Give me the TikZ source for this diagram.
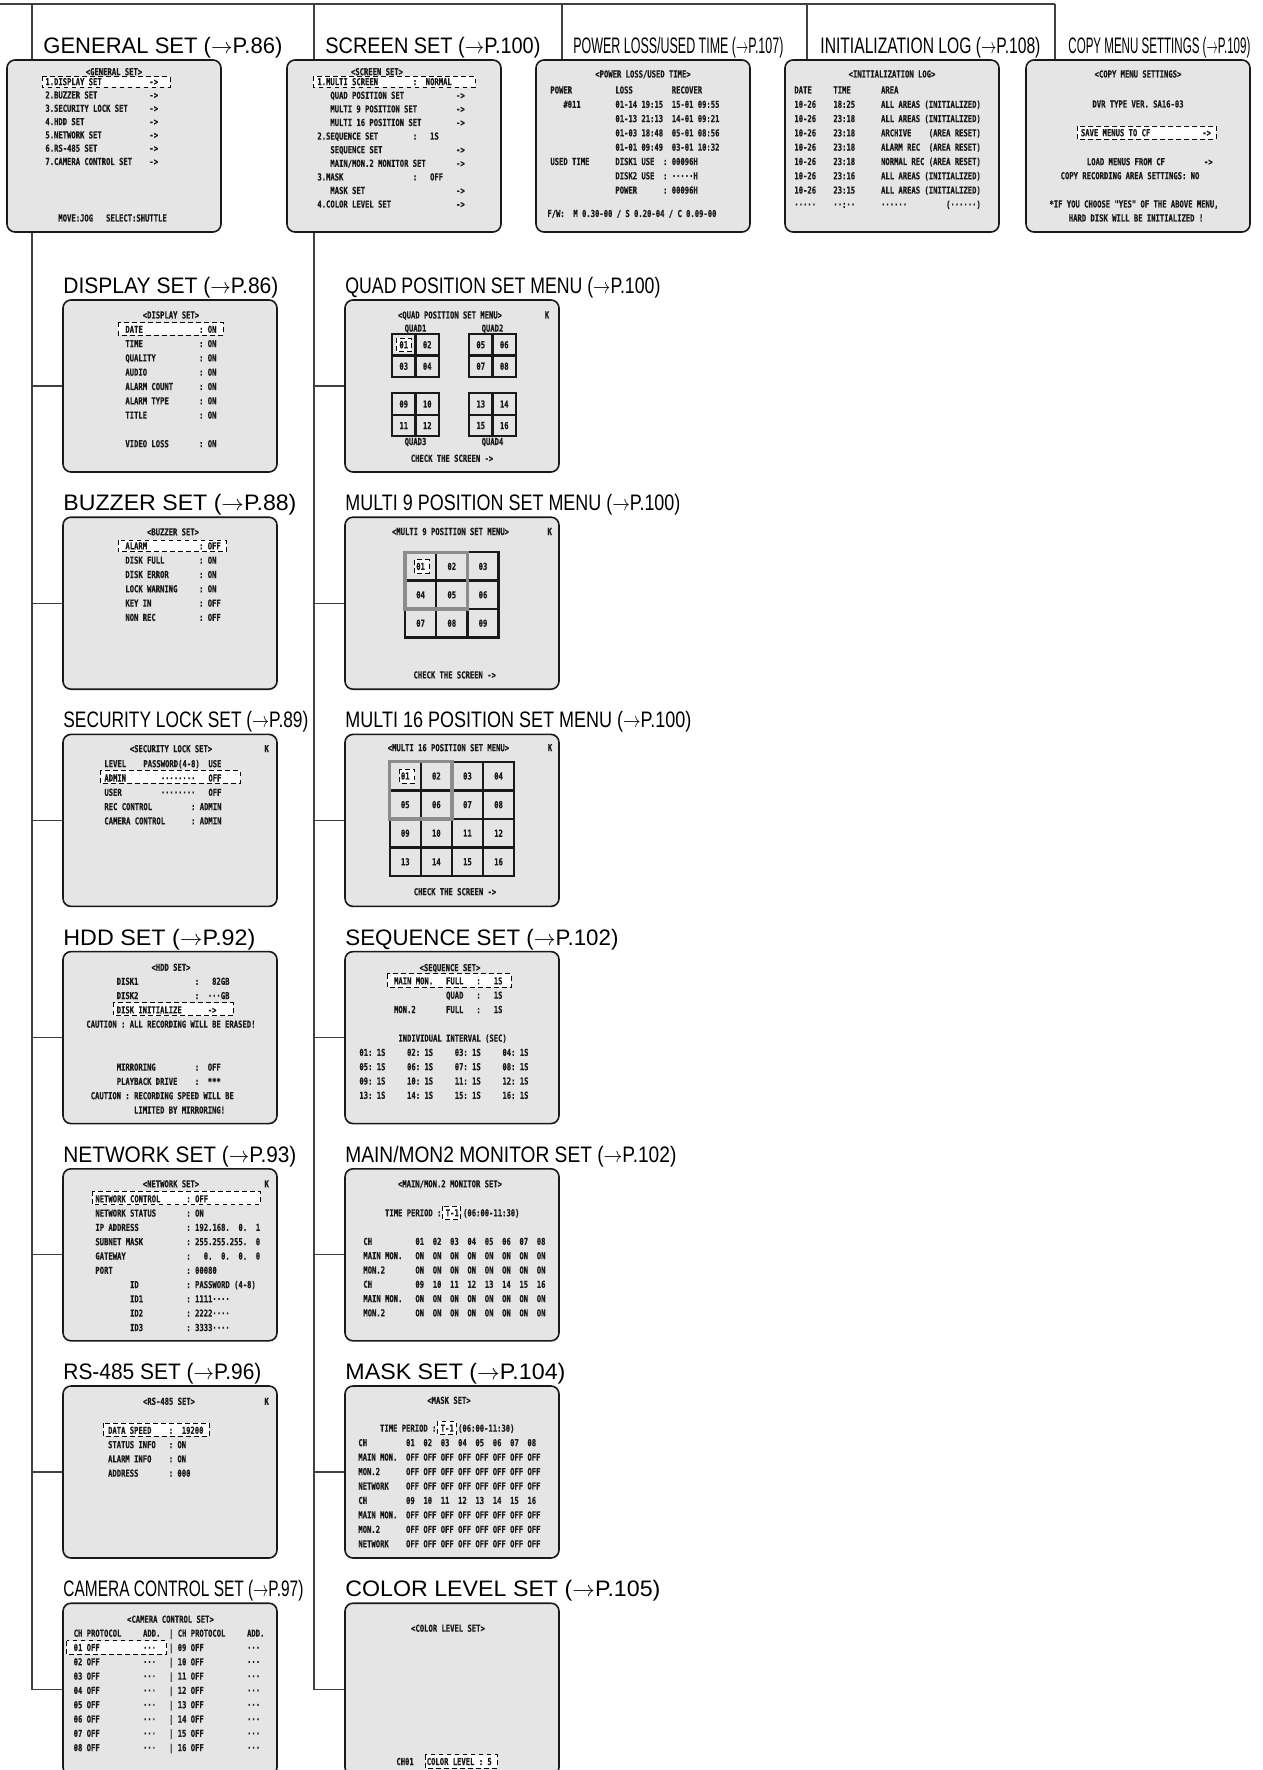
\documentclass[tikz,border=0pt]{standalone}
\usepackage{fontspec}
\setmainfont{Liberation Sans}
\newfontfamily\osdfont{DejaVu Sans Mono}[FakeStretch=0.75, BoldFeatures={FakeBold=0.5}]
\usetikzlibrary{positioning,backgrounds}

\newdimen\px \px=0.5pt
\newcommand\osdsetup{\osdfont\bfseries\fontsize{4.8}{6}\selectfont
  \frenchspacing\spaceskip=\fontcharwd\font`0\relax}
\newcommand\osp[1]{\kern#1\fontcharwd\font`0\relax}
\newcommand\rowof[2]{#1\osp{#2}#1\osp{#2}#1\osp{#2}#1\osp{#2}#1\osp{#2}#1\osp{#2}#1\osp{#2}#1}
\newcommand\hdtext[2]{\resizebox{#1\px}{\height}{#2}}
\newcommand\osdlines[5]{%
  \foreach \lntext [count=\i from 0] in {#5}
    \node[osd] (#1-\i) at (#2,{#3+\i*#4}) {\lntext};}
\newcommand\quadgrid[7]{%
  \draw[cellgrid] (#2,#3) rectangle ++(47,43) (#2+23.5,#3) -- ++(0,43) (#2,#3+21.5) -- ++(47,0);
  \node[cellno] (#1-1) at (#2+11.75,#3+10.75) {#4};
  \node[cellno] (#1-2) at (#2+35.25,#3+10.75) {#5};
  \node[cellno] (#1-3) at (#2+11.75,#3+32.25) {#6};
  \node[cellno] (#1-4) at (#2+35.25,#3+32.25) {#7};}

\begin{document}
\begin{tikzpicture}[x=0.5pt, y=-0.5pt,
    osdbox/.style={draw=black!90, line width=0.8pt, fill=black!10, rounded corners=4pt,
                   minimum width=107pt, minimum height=86pt, inner sep=0pt, outer sep=0pt},
    widebox/.style={osdbox, minimum width=112pt},
    hdr/.style={anchor=base west, inner sep=0pt, font=\fontsize{11.2}{13}\selectfont},
    osd/.style={anchor=base west, inner sep=0pt, text=black!90, font=\osdsetup},
    ostitle/.style={osd, anchor=base},
    cellno/.style={osd, anchor=center},
    hl/.style={draw=black, fill=white, line width=0.45pt, dash pattern=on 2.4pt off 1.6pt},
    cellgrid/.style={draw=black!90, line width=1.2pt},
    selframe/.style={draw=black!45, line width=1.6pt},
    tree/.style={draw=black!75, line width=0.65pt}
  ]
  \useasboundingbox (0,0) rectangle (1262,1770);

  % top row
  \node[osdbox, anchor=north west] (general) at (7,60) {};
  \node[osdbox, right=33pt of general]   (screenset) {};
  \node[osdbox, right=17.5pt of screenset] (power) {};
  \node[osdbox, right=17.5pt of power]   (init) {};
  \node[widebox, right=13.5pt of init]   (copy) {};

  % general set column
  \node[osdbox, anchor=north west] (display) at (63,300) {};
  \node[osdbox, below=22.6pt of display]  (buzzer) {};
  \node[osdbox, below=22.6pt of buzzer]   (security) {};
  \node[osdbox, below=22.6pt of security] (hdd) {};
  \node[osdbox, below=22.6pt of hdd]      (network) {};
  \node[osdbox, below=22.6pt of network]  (rs485) {};
  \node[osdbox, below=22.6pt of rs485]    (camera) {};

  % screen set column
  \node[osdbox, right=34pt of display]  (quad) {};
  \node[osdbox, right=34pt of buzzer]   (multi9) {};
  \node[osdbox, right=34pt of security] (multi16) {};
  \node[osdbox, right=34pt of hdd]      (sequence) {};
  \node[osdbox, right=34pt of network]  (mainmon) {};
  \node[osdbox, right=34pt of rs485]    (mask) {};
  \node[osdbox, right=34pt of camera]   (color) {};

  % headings
  \node[hdr] (general-h) at (43,54)   {\hdtext{239}{GENERAL SET ($\rightarrow$P.86)}};
  \node[hdr] (screen-h)  at (325,54)  {\hdtext{215}{SCREEN SET ($\rightarrow$P.100)}};
  \node[hdr] (power-h)   at (573,54)  {\hdtext{210}{POWER LOSS/USED TIME ($\rightarrow$P.107)}};
  \node[hdr] (init-h)    at (820,54)  {\hdtext{220}{INITIALIZATION LOG ($\rightarrow$P.108)}};
  \node[hdr] (copy-h)    at (1068,54) {\hdtext{182}{COPY MENU SETTINGS ($\rightarrow$P.109)}};
  \node[hdr] (display-h)  at ([yshift=3.25pt]display.north west)  {\hdtext{215}{DISPLAY SET ($\rightarrow$P.86)}};
  \node[hdr] (buzzer-h)   at ([yshift=3.25pt]buzzer.north west)   {\hdtext{233}{BUZZER SET ($\rightarrow$P.88)}};
  \node[hdr] (security-h) at ([yshift=3.25pt]security.north west) {\hdtext{245}{SECURITY LOCK SET ($\rightarrow$P.89)}};
  \node[hdr] (hdd-h)      at ([yshift=3.25pt]hdd.north west)      {\hdtext{192}{HDD SET ($\rightarrow$P.92)}};
  \node[hdr] (network-h)  at ([yshift=3.25pt]network.north west)  {\hdtext{233}{NETWORK SET ($\rightarrow$P.93)}};
  \node[hdr] (rs485-h)    at ([yshift=3.25pt]rs485.north west)    {\hdtext{198}{RS-485 SET ($\rightarrow$P.96)}};
  \node[hdr] (camera-h)   at ([yshift=3.25pt]camera.north west)   {\hdtext{240}{CAMERA CONTROL SET ($\rightarrow$P.97)}};
  \node[hdr] (quad-h)     at ([yshift=3.25pt]quad.north west)     {\hdtext{315}{QUAD POSITION SET MENU ($\rightarrow$P.100)}};
  \node[hdr] (multi9-h)   at ([yshift=3.25pt]multi9.north west)   {\hdtext{335}{MULTI 9 POSITION SET MENU ($\rightarrow$P.100)}};
  \node[hdr] (multi16-h)  at ([yshift=3.25pt]multi16.north west)  {\hdtext{346}{MULTI 16 POSITION SET MENU ($\rightarrow$P.100)}};
  \node[hdr] (sequence-h) at ([yshift=3.25pt]sequence.north west) {\hdtext{273}{SEQUENCE SET ($\rightarrow$P.102)}};
  \node[hdr] (mainmon-h)  at ([yshift=3.25pt]mainmon.north west)  {\hdtext{331}{MAIN/MON2 MONITOR SET ($\rightarrow$P.102)}};
  \node[hdr] (mask-h)     at ([yshift=3.25pt]mask.north west)     {\hdtext{220}{MASK SET ($\rightarrow$P.104)}};
  \node[hdr] (color-h)    at ([yshift=3.25pt]color.north west)    {\hdtext{315}{COLOR LEVEL SET ($\rightarrow$P.105)}};

  % tree lines
  \begin{scope}[on background layer]
    \coordinate (bus-w) at (0,4);
    \coordinate (bus-e) at (1055,4);
    \coordinate (drop1) at (32,4);
    \coordinate (drop2) at (314,4);
    \coordinate (drop3) at (562,4);
    \coordinate (drop4) at (807,4);
    \draw[tree] (bus-w) -- (bus-e);
    \draw[tree] (drop1) |- (camera.west);
    \draw[tree] (drop2) |- (color.west);
    \draw[tree] (drop3) -- (drop3 |- power.north);
    \draw[tree] (drop4) -- (drop4 |- init.north);
    \draw[tree] (bus-e) -- (bus-e |- copy.north);
    \foreach \b in {display,buzzer,security,hdd,network,rs485}
      \draw[tree] (drop1 |- \b.west) -- (\b.west);
    \foreach \b in {quad,multi9,multi16,sequence,mainmon,mask}
      \draw[tree] (drop2 |- \b.west) -- (\b.west);
  \end{scope}

  % screens
  \begin{scope}[shift={(general.north west)}]
    \node[ostitle] (general-t) at (107,15.2) {<GENERAL SET>};
    \path[hl] (35,16.7) rectangle (163,27.2);
    \osdlines{general}{38}{25.2}{13.3}{{1.DISPLAY SET\osp{11}->},{2.BUZZER SET\osp{12}->},
      {3.SECURITY LOCK SET\osp{5}->},{4.HDD SET\osp{15}->},{5.NETWORK SET\osp{11}->},
      {6.RS-485 SET\osp{12}->},{7.CAMERA CONTROL SET\osp{4}->}}
    \node[osd] (general-m) at (51,161.5) {MOVE:JOG\osp{3}SELECT:SHUTTLE};
  \end{scope}

  \begin{scope}[shift={(screenset.north west)}]
    \node[ostitle] (screenset-t) at (90,15.2) {<SCREEN SET>};
    \path[hl] (26,16.5) rectangle (188,27);
    \osdlines{screenset}{30}{25.2}{13.6}{{1.MULTI SCREEN\osp{8}:\osp{2}NORMAL},
      {\osp{3}QUAD POSITION SET\osp{12}->},{\osp{3}MULTI 9 POSITION SET\osp{9}->},
      {\osp{3}MULTI 16 POSITION SET\osp{8}->},{2.SEQUENCE SET\osp{8}:\osp{3}1S},
      {\osp{3}SEQUENCE SET\osp{17}->},{\osp{3}MAIN/MON.2 MONITOR SET\osp{7}->},
      {3.MASK\osp{16}:\osp{3}OFF},{\osp{3}MASK SET\osp{21}->},{4.COLOR LEVEL SET\osp{15}->}}
  \end{scope}

  \begin{scope}[shift={(power.north west)}]
    \node[ostitle] (power-t) at (107,17.5) {<POWER LOSS/USED TIME>};
    \osdlines{power}{14}{33.5}{14.3}{{POWER\osp{10}LOSS\osp{9}RECOVER},
      {\osp{3}\#011\osp{8}01-14 19:15\osp{2}15-01 09:55},
      {\osp{15}01-13 21:13\osp{2}14-01 09:21},{\osp{15}01-03 18:48\osp{2}05-01 08:56},
      {\osp{15}01-01 09:49\osp{2}03-01 10:32},{USED TIME\osp{6}DISK1 USE\osp{2}: 00096H},
      {\osp{15}DISK2 USE\osp{2}: ·····H},{\osp{15}POWER\osp{6}: 00096H}}
    \node[osd] (power-fw) at (11,157) {F/W:\osp{2}M 0.30-00 / S 0.20-04 / C 0.09-00};
  \end{scope}

  \begin{scope}[shift={(init.north west)}]
    \node[ostitle] (init-t) at (107,17.5) {<INITIALIZATION LOG>};
    \osdlines{init}{9}{33.5}{14.3}{{DATE\osp{5}TIME\osp{7}AREA},
      {10-26\osp{4}18:25\osp{6}ALL AREAS (INITIALIZED)},
      {10-26\osp{4}23:18\osp{6}ALL AREAS (INITIALIZED)},
      {10-26\osp{4}23:18\osp{6}ARCHIVE\osp{4}(AREA RESET)},
      {10-26\osp{4}23:18\osp{6}ALARM REC\osp{2}(AREA RESET)},
      {10-26\osp{4}23:18\osp{6}NORMAL REC (AREA RESET)},
      {10-26\osp{4}23:16\osp{6}ALL AREAS (INITIALIZED)},
      {10-26\osp{4}23:15\osp{6}ALL AREAS (INITIALIZED)},
      {·····\osp{4}··:··\osp{6}······\osp{9}(······)}}
  \end{scope}

  \begin{scope}[shift={(copy.north west)}]
    \node[ostitle] (copy-t) at (112,17.5) {<COPY MENU SETTINGS>};
    \node[ostitle] (copy-ver) at (112,47.5) {DVR TYPE VER. SA16-03};
    \path[hl] (51,66.2) rectangle (190,79);
    \node[osd] (copy-save) at (54.5,76.2) {SAVE MENUS TO CF\osp{12}->};
    \node[osd] (copy-load) at (60.5,105.2) {LOAD MENUS FROM CF\osp{9}->};
    \node[ostitle] (copy-area) at (104,119.2) {COPY RECORDING AREA SETTINGS: NO};
    \node[ostitle] (copy-warn1) at (108,147.5) {*IF YOU CHOOSE "YES" OF THE ABOVE MENU,};
    \node[ostitle] (copy-warn2) at (110,161.5) {HARD DISK WILL BE INITIALIZED !};
  \end{scope}

  \begin{scope}[shift={(display.north west)}]
    \node[ostitle] (display-t) at (108,18.5) {<DISPLAY SET>};
    \path[hl] (55,22.7) rectangle (160,35);
    \osdlines{display}{62}{32.8}{14.3}{{DATE\osp{13}: ON},{TIME\osp{13}: ON},
      {QUALITY\osp{10}: ON},{AUDIO\osp{12}: ON},{ALARM COUNT\osp{6}: ON},
      {ALARM TYPE\osp{7}: ON},{TITLE\osp{12}: ON},{},{VIDEO LOSS\osp{7}: ON}}
  \end{scope}

  \begin{scope}[shift={(buzzer.north west)}]
    \node[ostitle] (buzzer-t) at (110,18.2) {<BUZZER SET>};
    \path[hl] (55,23) rectangle (163,34.7);
    \osdlines{buzzer}{62}{32.2}{14.3}{{ALARM\osp{12}: OFF},{DISK FULL\osp{8}: ON},
      {DISK ERROR\osp{7}: ON},{LOCK WARNING\osp{5}: ON},{KEY IN\osp{11}: OFF},
      {NON REC\osp{10}: OFF}}
  \end{scope}

  \begin{scope}[shift={(security.north west)}]
    \node[ostitle] (security-t) at (108,17.8) {<SECURITY LOCK SET>};
    \node[ostitle] (security-k) at (203.7,17.8) {K};
    \path[hl] (37,36) rectangle (177,49);
    \osdlines{security}{41}{32.8}{14.3}{{LEVEL\osp{4}PASSWORD(4-8)\osp{2}USE},
      {ADMIN\osp{8}········\osp{3}OFF},{USER\osp{9}········\osp{3}OFF},
      {REC CONTROL\osp{9}: ADMIN},{CAMERA CONTROL\osp{6}: ADMIN}}
  \end{scope}

  \begin{scope}[shift={(hdd.north west)}]
    \node[ostitle] (hdd-t) at (108,19.2) {<HDD SET>};
    \path[hl] (50,51) rectangle (170,64);
    \osdlines{hdd}{23}{33.2}{14.3}{{\osp{7}DISK1\osp{13}:\osp{3}82GB},
      {\osp{7}DISK2\osp{13}:\osp{2}···GB},{\osp{7}DISK INITIALIZE\osp{6}->},
      {CAUTION : ALL RECORDING WILL BE ERASED!},{},{},
      {\osp{7}MIRRORING\osp{9}:\osp{2}OFF},{\osp{7}PLAYBACK DRIVE\osp{4}:\osp{2}***},
      {\osp{1}CAUTION : RECORDING SPEED WILL BE},{\osp{11}LIMITED BY MIRRORING!}}
  \end{scope}

  \begin{scope}[shift={(network.north west)}]
    \node[ostitle] (network-t) at (108,18.5) {<NETWORK SET>};
    \node[ostitle] (network-k) at (203.7,18.5) {K};
    \path[hl] (29,22.3) rectangle (197,35.7);
    \osdlines{network}{32}{33.5}{14.3}{{NETWORK CONTROL\osp{6}: OFF},
      {NETWORK STATUS\osp{7}: ON},{IP ADDRESS\osp{11}: 192.168.\osp{2}0.\osp{2}1},
      {SUBNET MASK\osp{10}: 255.255.255.\osp{2}0},
      {GATEWAY\osp{14}:\osp{3}0.\osp{2}0.\osp{2}0.\osp{2}0},{PORT\osp{17}: 00080},
      {\osp{8}ID\osp{11}: PASSWORD (4-8)},{\osp{8}ID1\osp{10}: 1111····},
      {\osp{8}ID2\osp{10}: 2222····},{\osp{8}ID3\osp{10}: 3333····}}
  \end{scope}

  \begin{scope}[shift={(rs485.north west)}]
    \node[ostitle] (rs485-t) at (106,18.8) {<RS-485 SET>};
    \node[ostitle] (rs485-k) at (203.7,18.8) {K};
    \path[hl] (40,37) rectangle (146,50.3);
    \osdlines{rs485}{44.7}{47.8}{14.3}{{DATA SPEED\osp{4}:\osp{2}19200},
      {STATUS INFO\osp{3}: ON},{ALARM INFO\osp{4}: ON},{ADDRESS\osp{7}: 000}}
  \end{scope}

  \begin{scope}[shift={(camera.north west)}]
    \node[ostitle] (camera-t) at (107.5,19.5) {<CAMERA CONTROL SET>};
    \path[hl] (3.7,37.7) rectangle (103.7,51);
    \osdlines{camera}{10.3}{33.5}{14.3}{{CH PROTOCOL\osp{5}ADD.\osp{2}| CH PROTOCOL\osp{5}ADD.},
      {01 OFF\osp{10}···\osp{3}| 09 OFF\osp{10}···},{02 OFF\osp{10}···\osp{3}| 10 OFF\osp{10}···},
      {03 OFF\osp{10}···\osp{3}| 11 OFF\osp{10}···},{04 OFF\osp{10}···\osp{3}| 12 OFF\osp{10}···},
      {05 OFF\osp{10}···\osp{3}| 13 OFF\osp{10}···},{06 OFF\osp{10}···\osp{3}| 14 OFF\osp{10}···},
      {07 OFF\osp{10}···\osp{3}| 15 OFF\osp{10}···},{08 OFF\osp{10}···\osp{3}| 16 OFF\osp{10}···}}
  \end{scope}

  \begin{scope}[shift={(quad.north west)}]
    \node[ostitle] (quad-t) at (105,18.5) {<QUAD POSITION SET MENU>};
    \node[ostitle] (quad-k) at (202,18.5) {K};
    \node[ostitle] (quad-n1) at (70.5,31.7) {QUAD1};
    \node[ostitle] (quad-n2) at (147.5,31.7) {QUAD2};
    \node[ostitle] (quad-n3) at (70.5,145) {QUAD3};
    \node[ostitle] (quad-n4) at (147.5,145) {QUAD4};
    \path[hl] (51.3,38.3) rectangle (66.3,51.7);
    \quadgrid{quad-a}{47}{34}{01}{02}{03}{04}
    \quadgrid{quad-b}{124}{34}{05}{06}{07}{08}
    \quadgrid{quad-c}{47}{93.3}{09}{10}{11}{12}
    \quadgrid{quad-d}{124}{93.3}{13}{14}{15}{16}
    \node[ostitle] (quad-chk) at (107,161.8) {CHECK THE SCREEN ->};
  \end{scope}

  \begin{scope}[shift={(multi9.north west)}]
    \node[ostitle] (multi9-t) at (105.5,17.8) {<MULTI 9 POSITION SET MENU>};
    \node[ostitle] (multi9-k) at (204.7,17.8) {K};
    \foreach \rr in {0,1,2} \foreach \cc in {0,1,2}
      \draw[cellgrid] ({60+31.2*\cc},{35+28.4*\rr}) rectangle ++(31.2,28.4);
    \draw[selframe] (60,35) rectangle ++(62.4,56.8);
    \path[hl] (69.7,42.7) rectangle (84,56);
    \foreach \rr in {0,1,2} \foreach \cc in {0,1,2} {
      \pgfmathtruncatemacro\cellk{3*\rr+\cc+1}
      \node[cellno] (multi9-\cellk) at ({75.6+31.2*\cc},{49.2+28.4*\rr}) {0\cellk};}
    \node[ostitle] (multi9-chk) at (109.7,161.2) {CHECK THE SCREEN ->};
  \end{scope}

  \begin{scope}[shift={(multi16.north west)}]
    \node[ostitle] (multi16-t) at (103.4,16.8) {<MULTI 16 POSITION SET MENU>};
    \node[ostitle] (multi16-k) at (205,16.8) {K};
    \foreach \rr in {0,...,3} \foreach \cc in {0,...,3}
      \draw[cellgrid] ({44.7+31.1*\cc},{27.3+28.6*\rr}) rectangle ++(31.1,28.6);
    \draw[selframe] (44.7,27.3) rectangle ++(62.2,57.2);
    \path[hl] (54.7,35) rectangle (69.7,49);
    \foreach \rr in {0,...,3} \foreach \cc in {0,...,3} {
      \pgfmathtruncatemacro\cellk{4*\rr+\cc+1}
      \node[cellno] (multi16-\cellk) at ({60.25+31.1*\cc},{41.6+28.6*\rr}) {\ifnum\cellk<10 0\fi\cellk};}
    \node[ostitle] (multi16-chk) at (110,160.8) {CHECK THE SCREEN ->};
  \end{scope}

  \begin{scope}[shift={(sequence.north west)}]
    \node[ostitle] (sequence-t) at (105,19.5) {<SEQUENCE SET>};
    \path[hl] (42,22.3) rectangle (166.3,35.6);
    \osdlines{sequence}{14}{32.8}{14.3}{{\osp{8}MAIN MON.\osp{3}FULL\osp{3}:\osp{3}1S},
      {\osp{20}QUAD\osp{3}:\osp{3}1S},{\osp{8}MON.2\osp{7}FULL\osp{3}:\osp{3}1S},{},
      {\osp{9}INDIVIDUAL INTERVAL (SEC)},
      {01: 1S\osp{5}02: 1S\osp{5}03: 1S\osp{5}04: 1S},
      {05: 1S\osp{5}06: 1S\osp{5}07: 1S\osp{5}08: 1S},
      {09: 1S\osp{5}10: 1S\osp{5}11: 1S\osp{5}12: 1S},
      {13: 1S\osp{5}14: 1S\osp{5}15: 1S\osp{5}16: 1S}}
  \end{scope}

  \begin{scope}[shift={(mainmon.north west)}]
    \node[ostitle] (mainmon-t) at (105,18.5) {<MAIN/MON.2 MONITOR SET>};
    \path[hl] (97.3,37.3) rectangle (115.3,50.7);
    \osdlines{mainmon}{18}{47.5}{14.3}{{\osp{5}TIME PERIOD : T-1 (06:00-11:30)},{},
      {CH\osp{10}01\osp{2}02\osp{2}03\osp{2}04\osp{2}05\osp{2}06\osp{2}07\osp{2}08},
      {MAIN MON.\osp{3}\rowof{ON}{2}},{MON.2\osp{7}\rowof{ON}{2}},
      {CH\osp{10}09\osp{2}10\osp{2}11\osp{2}12\osp{2}13\osp{2}14\osp{2}15\osp{2}16},
      {MAIN MON.\osp{3}\rowof{ON}{2}},{MON.2\osp{7}\rowof{ON}{2}}}
  \end{scope}

  \begin{scope}[shift={(mask.north west)}]
    \node[ostitle] (mask-t) at (104,17.8) {<MASK SET>};
    \path[hl] (92,35.4) rectangle (111.4,48.7);
    \osdlines{mask}{13}{45.7}{14.45}{{\osp{5}TIME PERIOD : T-1 (06:00-11:30)},
      {CH\osp{9}01\osp{2}02\osp{2}03\osp{2}04\osp{2}05\osp{2}06\osp{2}07\osp{2}08},
      {MAIN MON.\osp{2}\rowof{OFF}{1}},{MON.2\osp{6}\rowof{OFF}{1}},{NETWORK\osp{4}\rowof{OFF}{1}},
      {CH\osp{9}09\osp{2}10\osp{2}11\osp{2}12\osp{2}13\osp{2}14\osp{2}15\osp{2}16},
      {MAIN MON.\osp{2}\rowof{OFF}{1}},{MON.2\osp{6}\rowof{OFF}{1}},{NETWORK\osp{4}\rowof{OFF}{1}}}
  \end{scope}

  \begin{scope}[shift={(color.north west)}]
    \node[ostitle] (color-t) at (103,28.5) {<COLOR LEVEL SET>};
    \path[hl] (80.3,151.7) rectangle (152,165);
    \node[osd] (color-ch) at (51,161.8) {CH01\osp{3}COLOR LEVEL : 5};
  \end{scope}
\end{tikzpicture}
\end{document}
